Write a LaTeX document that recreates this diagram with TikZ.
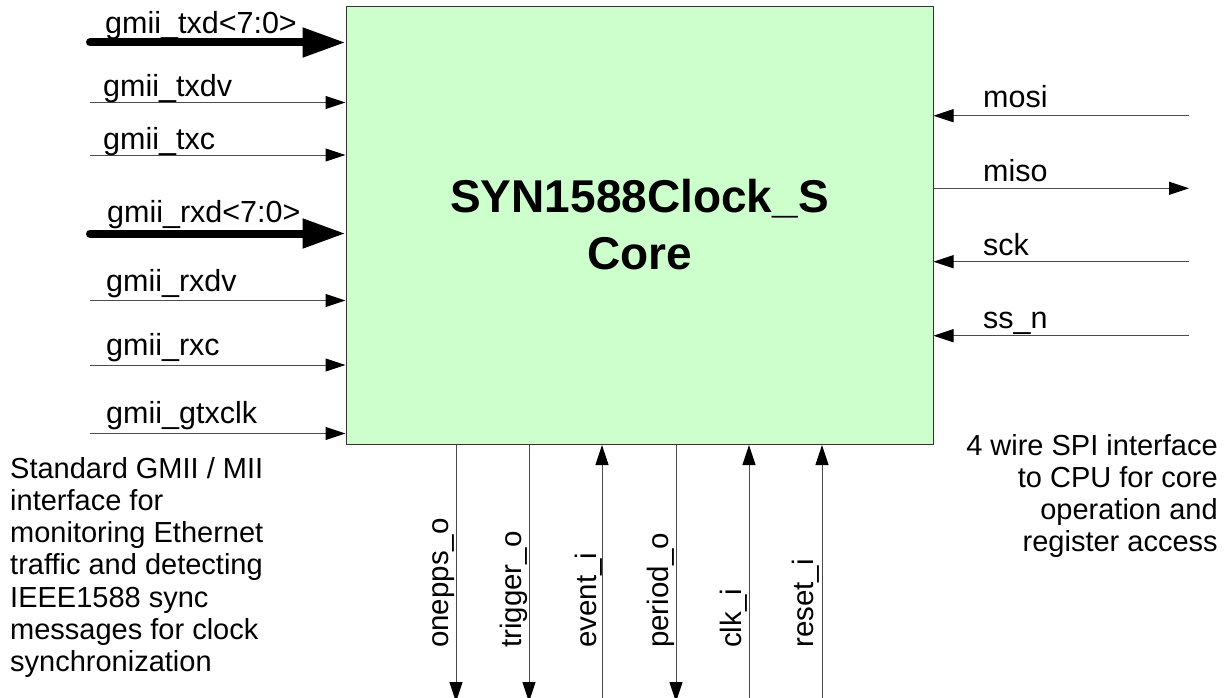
\documentclass[tikz,border=0pt]{standalone}
\usepackage{fontspec}
\setmainfont{Liberation Sans}
\usetikzlibrary{arrows.meta}
\definecolor{corefill}{RGB}{204,255,204}
\begin{document}
\begin{tikzpicture}[x=1pt,y=-1pt,
  sigline/.style={draw=black!70, line width=1pt},
  thinarrow/.style={sigline, -{Triangle[length=20pt,width=13pt,color=black]}},
  thinarrowback/.style={sigline, {Triangle[length=20pt,width=13pt,color=black]}-},
  busarrow/.style={draw=black, line width=8pt, line cap=round, -{Triangle[length=43pt,width=28pt]}},
  pinlabel/.style={font=\fontsize{30.5}{36}\selectfont, anchor=base west, inner sep=0pt},
  vlabel/.style={font=\fontsize{29.5}{36}\selectfont, anchor=base west, inner sep=0pt, rotate=90},
  note/.style={font=\fontsize{29}{32.3}\selectfont, anchor=base west, inner sep=0pt}]
\useasboundingbox (0,0) rectangle (1231,698);
\fill[white] (0,0) rectangle (1231,698);
% core block
\node[draw=black!80, line width=1pt, fill=corefill, minimum width=587pt, minimum height=438pt,
      inner sep=0pt, anchor=north west] (core) at (345.5,6) {};
\node[font=\fontsize{46}{57}\selectfont\bfseries, anchor=base, inner sep=0pt] (title) at (639.5,212)
  {\vtop{\hbox to 0pt{\hss SYN1588Clock\_S\hss}\hbox to 0pt{\hss Core\hss}}};
% left side inputs
\coordinate (txd) at (90,42.5);
\coordinate (txdv) at (90,102.5);
\coordinate (txc) at (90,155);
\coordinate (rxd) at (90,233.5);
\coordinate (rxdv) at (90,300.5);
\coordinate (rxc) at (90,365);
\coordinate (gtx) at (90,433.5);
\draw[busarrow] (txd) -- (txd -| core.west);
\draw[thinarrow] (txdv) -- (txdv -| core.west);
\draw[thinarrow] (txc) -- (txc -| core.west);
\draw[busarrow] (rxd) -- (rxd -| core.west);
\draw[thinarrow] (rxdv) -- (rxdv -| core.west);
\draw[thinarrow] (rxc) -- (rxc -| core.west);
\draw[thinarrow] (gtx) -- (gtx -| core.west);
\node[pinlabel] (ltxd) at (105,33.5) {gmii\_txd<7:0>};
\node[pinlabel] (ltxdv) at (103,96.7) {gmii\_txdv};
\node[pinlabel] (ltxc) at (103,149.5) {gmii\_txc};
\node[pinlabel] (lrxd) at (107,222.5) {gmii\_rxd<7:0>};
\node[pinlabel] (lrxdv) at (106,291.7) {gmii\_rxdv};
\node[pinlabel] (lrxc) at (106,355) {gmii\_rxc};
\node[pinlabel] (lgtx) at (106,423.5) {gmii\_gtxclk};
% right side SPI
\coordinate (mosi) at (1189,115.7);
\coordinate (miso) at (1189,188.3);
\coordinate (sck) at (1189,261.7);
\coordinate (ssn) at (1189,335.7);
\draw[thinarrowback] (mosi -| core.east) -- (mosi);
\draw[thinarrow] (miso -| core.east) -- (miso);
\draw[thinarrowback] (sck -| core.east) -- (sck);
\draw[thinarrowback] (ssn -| core.east) -- (ssn);
\node[pinlabel] (lmosi) at (983,108) {mosi};
\node[pinlabel] (lmiso) at (983,181.5) {miso};
\node[pinlabel] (lsck) at (983,255) {sck};
\node[pinlabel] (lssn) at (983,328.5) {ss\_n};
% bottom signals
\coordinate (onepps) at (456,702);
\coordinate (trig) at (529,702);
\coordinate (event) at (602,698);
\coordinate (period) at (676,702);
\coordinate (clk) at (749,698);
\coordinate (reset) at (822,698);
\draw[thinarrow] (onepps |- core.south) -- (onepps);
\draw[thinarrow] (trig |- core.south) -- (trig);
\draw[thinarrowback] (event |- core.south) -- (event);
\draw[thinarrow] (period |- core.south) -- (period);
\draw[thinarrowback] (clk |- core.south) -- (clk);
\draw[thinarrowback] (reset |- core.south) -- (reset);
\node[vlabel] (lonepps) at (448,648) {onepps\_o};
\node[vlabel] (ltrig) at (521.5,648) {trigger\_o};
\node[vlabel] (levent) at (596.5,648) {event\_i};
\node[vlabel] (lperiod) at (668,648) {period\_o};
\node[vlabel] (lclk) at (741.5,648) {clk\_i};
\node[vlabel] (lreset) at (813.5,648) {reset\_i};
% notes
\node[note] (gmiinote) at (10,478) {\vtop{\hbox{Standard GMII / MII}\hbox{interface for}\hbox{monitoring Ethernet}\hbox{traffic and detecting}\hbox{IEEE1588 sync}\hbox{messages for clock}\hbox{synchronization}}};
\node[note] (spinote) at (1217,455) {\vtop{\hbox to 0pt{\hss 4 wire SPI interface}\hbox to 0pt{\hss to CPU for core}\hbox to 0pt{\hss operation and}\hbox to 0pt{\hss register access}}};
\end{tikzpicture}
\end{document}
